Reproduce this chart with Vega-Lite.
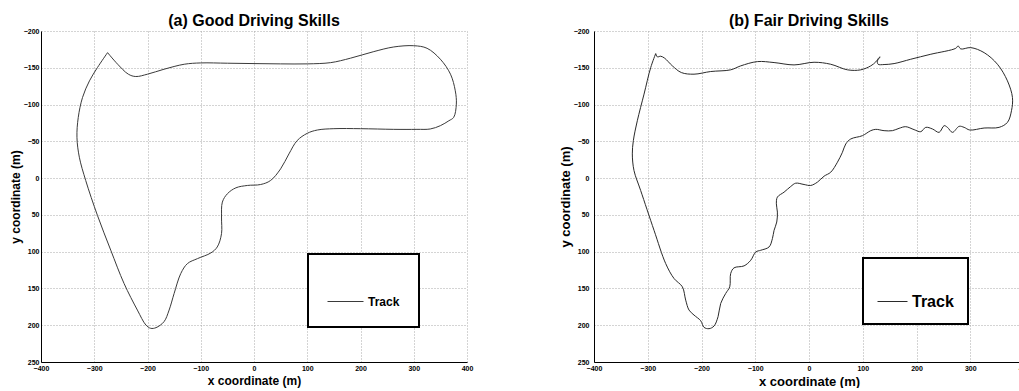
{
  "$schema": "https://vega.github.io/schema/vega-lite/v6.json",
  "padding": {"left": 9, "top": 13, "right": 0, "bottom": 0},
  "background": "white",
  "spacing": 86,
  "config": {
    "font": "Liberation Sans",
    "view": {"stroke": null},
    "axis": {
      "domainColor": "black",
      "domainWidth": 1,
      "ticks": false,
      "labelFont": "Liberation Sans",
      "labelFontSize": 7,
      "labelFontWeight": "bold",
      "labelColor": "black",
      "labelPadding": 2,
      "labelFlush": false,
      "labelOverlap": false,
      "grid": true,
      "gridColor": "#a8a8a8",
      "gridDash": [1, 2],
      "gridWidth": 1,
      "titleFont": "Liberation Sans",
      "titleFontWeight": "bold",
      "titleColor": "black"
    },
    "legend": {
      "orient": "none",
      "fillColor": "white",
      "strokeColor": "black",
      "strokeWidth": 2,
      "symbolType": "stroke",
      "symbolStrokeColor": "black",
      "symbolStrokeWidth": 1,
      "labelFont": "Liberation Sans",
      "labelFontWeight": "bold",
      "labelColor": "black",
      "labelOffset": 4,
      "titleFontSize": 1,
      "titleColor": "white"
    },
    "title": {"font": "Liberation Sans", "fontSize": 16, "fontWeight": "bold", "color": "black", "anchor": "middle", "offset": -2}
  },
  "datasets": {
    "good": [
      {"series": "Track", "i": 0, "x": -275, "y": -170.6},
      {"series": "Track", "i": 1, "x": -256, "y": -154.8},
      {"series": "Track", "i": 2, "x": -236, "y": -141.3},
      {"series": "Track", "i": 3, "x": -222, "y": -138.1},
      {"series": "Track", "i": 4, "x": -200, "y": -141.3},
      {"series": "Track", "i": 5, "x": -169, "y": -148},
      {"series": "Track", "i": 6, "x": -131, "y": -154.8},
      {"series": "Track", "i": 7, "x": -100, "y": -156.6},
      {"series": "Track", "i": 8, "x": -50, "y": -156.2},
      {"series": "Track", "i": 9, "x": 0, "y": -155.7},
      {"series": "Track", "i": 10, "x": 50, "y": -155.3},
      {"series": "Track", "i": 11, "x": 100, "y": -155.3},
      {"series": "Track", "i": 12, "x": 144, "y": -157},
      {"series": "Track", "i": 13, "x": 181, "y": -163},
      {"series": "Track", "i": 14, "x": 225, "y": -172},
      {"series": "Track", "i": 15, "x": 262.5, "y": -178.3},
      {"series": "Track", "i": 16, "x": 300, "y": -180},
      {"series": "Track", "i": 17, "x": 325, "y": -176.5},
      {"series": "Track", "i": 18, "x": 350, "y": -161.6},
      {"series": "Track", "i": 19, "x": 369, "y": -141.3},
      {"series": "Track", "i": 20, "x": 378, "y": -118.7},
      {"series": "Track", "i": 21, "x": 380, "y": -100.6},
      {"series": "Track", "i": 22, "x": 375, "y": -82.6},
      {"series": "Track", "i": 23, "x": 366, "y": -78},
      {"series": "Track", "i": 24, "x": 350, "y": -71.3},
      {"series": "Track", "i": 25, "x": 331, "y": -66.8},
      {"series": "Track", "i": 26, "x": 306, "y": -66.3},
      {"series": "Track", "i": 27, "x": 262.5, "y": -66.3},
      {"series": "Track", "i": 28, "x": 200, "y": -67.2},
      {"series": "Track", "i": 29, "x": 150, "y": -67.2},
      {"series": "Track", "i": 30, "x": 119, "y": -65.4},
      {"series": "Track", "i": 31, "x": 100, "y": -60.9},
      {"series": "Track", "i": 32, "x": 81, "y": -51},
      {"series": "Track", "i": 33, "x": 65.6, "y": -32.9},
      {"series": "Track", "i": 34, "x": 50, "y": -12.6},
      {"series": "Track", "i": 35, "x": 31, "y": 3.3},
      {"series": "Track", "i": 36, "x": 12.5, "y": 8.7},
      {"series": "Track", "i": 37, "x": -12.5, "y": 10},
      {"series": "Track", "i": 38, "x": -34, "y": 13.2},
      {"series": "Track", "i": 39, "x": -50, "y": 21.3},
      {"series": "Track", "i": 40, "x": -59.4, "y": 32.6},
      {"series": "Track", "i": 41, "x": -61, "y": 52.9},
      {"series": "Track", "i": 42, "x": -61, "y": 75.5},
      {"series": "Track", "i": 43, "x": -69, "y": 93.6},
      {"series": "Track", "i": 44, "x": -81, "y": 101.7},
      {"series": "Track", "i": 45, "x": -106, "y": 109.4},
      {"series": "Track", "i": 46, "x": -125, "y": 116.2},
      {"series": "Track", "i": 47, "x": -137.5, "y": 129.7},
      {"series": "Track", "i": 48, "x": -150, "y": 156.8},
      {"series": "Track", "i": 49, "x": -159.4, "y": 179.4},
      {"series": "Track", "i": 50, "x": -169, "y": 195.2},
      {"series": "Track", "i": 51, "x": -184, "y": 203.3},
      {"series": "Track", "i": 52, "x": -194, "y": 204.2},
      {"series": "Track", "i": 53, "x": -203, "y": 199.7},
      {"series": "Track", "i": 54, "x": -219, "y": 179.4},
      {"series": "Track", "i": 55, "x": -244, "y": 143.3},
      {"series": "Track", "i": 56, "x": -269, "y": 98},
      {"series": "Track", "i": 57, "x": -294, "y": 50.7},
      {"series": "Track", "i": 58, "x": -316, "y": 3.3},
      {"series": "Track", "i": 59, "x": -328, "y": -28.4},
      {"series": "Track", "i": 60, "x": -332.5, "y": -55.5},
      {"series": "Track", "i": 61, "x": -330, "y": -82.6},
      {"series": "Track", "i": 62, "x": -322, "y": -109.7},
      {"series": "Track", "i": 63, "x": -309, "y": -132.2},
      {"series": "Track", "i": 64, "x": -294, "y": -150.3},
      {"series": "Track", "i": 65, "x": -275, "y": -170.6}
    ],
    "fair": [
      {"series": "Track", "i": 0, "x": -285.2, "y": -169.3},
      {"series": "Track", "i": 1, "x": -282.1, "y": -164.8},
      {"series": "Track", "i": 2, "x": -275.9, "y": -165.7},
      {"series": "Track", "i": 3, "x": -268.5, "y": -163.0},
      {"series": "Track", "i": 4, "x": -254.2, "y": -152.6},
      {"series": "Track", "i": 5, "x": -237.5, "y": -143.5},
      {"series": "Track", "i": 6, "x": -213.9, "y": -141.3},
      {"series": "Track", "i": 7, "x": -182.9, "y": -144.9},
      {"series": "Track", "i": 8, "x": -145.7, "y": -147.2},
      {"series": "Track", "i": 9, "x": -127.0, "y": -152.6},
      {"series": "Track", "i": 10, "x": -96.0, "y": -158.4},
      {"series": "Track", "i": 11, "x": -65.0, "y": -157.1},
      {"series": "Track", "i": 12, "x": -27.8, "y": -153.9},
      {"series": "Track", "i": 13, "x": 9.4, "y": -157.5},
      {"series": "Track", "i": 14, "x": 40.4, "y": -154.8},
      {"series": "Track", "i": 15, "x": 71.5, "y": -147.2},
      {"series": "Track", "i": 16, "x": 96.3, "y": -147.2},
      {"series": "Track", "i": 17, "x": 114.9, "y": -152.6},
      {"series": "Track", "i": 18, "x": 124.2, "y": -158.0},
      {"series": "Track", "i": 19, "x": 130.4, "y": -163.9},
      {"series": "Track", "i": 20, "x": 132.3, "y": -164.8},
      {"series": "Track", "i": 21, "x": 127.3, "y": -159.3},
      {"series": "Track", "i": 22, "x": 128.5, "y": -154.8},
      {"series": "Track", "i": 23, "x": 139.7, "y": -154.4},
      {"series": "Track", "i": 24, "x": 158.3, "y": -155.7},
      {"series": "Track", "i": 25, "x": 189.3, "y": -161.6},
      {"series": "Track", "i": 26, "x": 226.6, "y": -168.4},
      {"series": "Track", "i": 27, "x": 273.1, "y": -176.5},
      {"series": "Track", "i": 28, "x": 277.4, "y": -179.7},
      {"series": "Track", "i": 29, "x": 282.4, "y": -175.6},
      {"series": "Track", "i": 30, "x": 301.0, "y": -177.4},
      {"series": "Track", "i": 31, "x": 325.8, "y": -170.6},
      {"series": "Track", "i": 32, "x": 350.6, "y": -154.8},
      {"series": "Track", "i": 33, "x": 369.2, "y": -132.2},
      {"series": "Track", "i": 34, "x": 378.5, "y": -109.7},
      {"series": "Track", "i": 35, "x": 376.7, "y": -91.6},
      {"series": "Track", "i": 36, "x": 369.2, "y": -75.8},
      {"series": "Track", "i": 37, "x": 353.7, "y": -69.0},
      {"series": "Track", "i": 38, "x": 325.8, "y": -68.1},
      {"series": "Track", "i": 39, "x": 299.1, "y": -65.4},
      {"series": "Track", "i": 40, "x": 288.6, "y": -69.0},
      {"series": "Track", "i": 41, "x": 279.3, "y": -70.4},
      {"series": "Track", "i": 42, "x": 266.9, "y": -62.2},
      {"series": "Track", "i": 43, "x": 257.6, "y": -69.0},
      {"series": "Track", "i": 44, "x": 251.4, "y": -71.3},
      {"series": "Track", "i": 45, "x": 242.1, "y": -62.2},
      {"series": "Track", "i": 46, "x": 229.7, "y": -66.8},
      {"series": "Track", "i": 47, "x": 217.2, "y": -69.0},
      {"series": "Track", "i": 48, "x": 207.9, "y": -63.1},
      {"series": "Track", "i": 49, "x": 195.5, "y": -65.9},
      {"series": "Track", "i": 50, "x": 180.0, "y": -69.9},
      {"series": "Track", "i": 51, "x": 167.6, "y": -67.7},
      {"series": "Track", "i": 52, "x": 155.2, "y": -64.5},
      {"series": "Track", "i": 53, "x": 139.7, "y": -64.5},
      {"series": "Track", "i": 54, "x": 124.2, "y": -66.3},
      {"series": "Track", "i": 55, "x": 114.9, "y": -64.5},
      {"series": "Track", "i": 56, "x": 99.4, "y": -57.7},
      {"series": "Track", "i": 57, "x": 77.7, "y": -53.2},
      {"series": "Track", "i": 58, "x": 68.4, "y": -46.4},
      {"series": "Track", "i": 59, "x": 62.2, "y": -35.1},
      {"series": "Track", "i": 60, "x": 52.9, "y": -21.6},
      {"series": "Track", "i": 61, "x": 40.4, "y": -8.0},
      {"series": "Track", "i": 62, "x": 28.0, "y": -2.6},
      {"series": "Track", "i": 63, "x": 15.6, "y": 5.5},
      {"series": "Track", "i": 64, "x": 3.2, "y": 10.0},
      {"series": "Track", "i": 65, "x": -9.2, "y": 8.7},
      {"series": "Track", "i": 66, "x": -24.7, "y": 6.9},
      {"series": "Track", "i": 67, "x": -34.0, "y": 11.4},
      {"series": "Track", "i": 68, "x": -46.4, "y": 19.1},
      {"series": "Track", "i": 69, "x": -58.8, "y": 25.8},
      {"series": "Track", "i": 70, "x": -60.7, "y": 34.9},
      {"series": "Track", "i": 71, "x": -58.8, "y": 46.2},
      {"series": "Track", "i": 72, "x": -60.0, "y": 59.7},
      {"series": "Track", "i": 73, "x": -65.0, "y": 71.0},
      {"series": "Track", "i": 74, "x": -68.1, "y": 82.3},
      {"series": "Track", "i": 75, "x": -74.3, "y": 93.6},
      {"series": "Track", "i": 76, "x": -89.8, "y": 98.1},
      {"series": "Track", "i": 77, "x": -99.1, "y": 100.4},
      {"series": "Track", "i": 78, "x": -108.4, "y": 111.7},
      {"series": "Track", "i": 79, "x": -120.8, "y": 119.3},
      {"series": "Track", "i": 80, "x": -139.5, "y": 122.0},
      {"series": "Track", "i": 81, "x": -145.7, "y": 129.7},
      {"series": "Track", "i": 82, "x": -147.5, "y": 147.8},
      {"series": "Track", "i": 83, "x": -155.0, "y": 156.8},
      {"series": "Track", "i": 84, "x": -164.3, "y": 170.4},
      {"series": "Track", "i": 85, "x": -169.2, "y": 188.4},
      {"series": "Track", "i": 86, "x": -176.7, "y": 201.1},
      {"series": "Track", "i": 87, "x": -186.0, "y": 204.7},
      {"series": "Track", "i": 88, "x": -195.3, "y": 202.9},
      {"series": "Track", "i": 89, "x": -201.5, "y": 193.9},
      {"series": "Track", "i": 90, "x": -213.9, "y": 186.2},
      {"series": "Track", "i": 91, "x": -223.2, "y": 179.4},
      {"series": "Track", "i": 92, "x": -229.4, "y": 165.9},
      {"series": "Track", "i": 93, "x": -235.6, "y": 147.8},
      {"series": "Track", "i": 94, "x": -251.1, "y": 136.5},
      {"series": "Track", "i": 95, "x": -266.6, "y": 116.2},
      {"series": "Track", "i": 96, "x": -288.3, "y": 71.0},
      {"series": "Track", "i": 97, "x": -313.2, "y": 16.8},
      {"series": "Track", "i": 98, "x": -325.6, "y": -10.3},
      {"series": "Track", "i": 99, "x": -328.7, "y": -32.9},
      {"series": "Track", "i": 100, "x": -326.8, "y": -50.9},
      {"series": "Track", "i": 101, "x": -319.4, "y": -78.0},
      {"series": "Track", "i": 102, "x": -306.9, "y": -114.2},
      {"series": "Track", "i": 103, "x": -294.5, "y": -150.3},
      {"series": "Track", "i": 104, "x": -285.2, "y": -169.3}
    ]
  },
  "resolve": {"scale": {"color": "independent", "x": "independent", "y": "independent"}, "legend": {"color": "independent"}},
  "hconcat": [
    {
      "width": 426,
      "height": 331,
      "title": {"text": "(a) Good Driving Skills"},
      "data": {"name": "good"},
      "mark": {"type": "line", "interpolate": "catmull-rom", "strokeWidth": 1, "clip": true},
      "encoding": {
        "x": {"field": "x", "type": "quantitative", "scale": {"domain": [-400, 400], "nice": false},
          "axis": {"title": "x coordinate (m)", "values": [-400, -300, -200, -100, 0, 100, 200, 300, 400], "titleFontSize": 12, "titlePadding": 4}},
        "y": {"field": "y", "type": "quantitative", "scale": {"domain": [-200, 250], "reverse": true, "nice": false},
          "axis": {"title": "y coordinate (m)", "values": [-200, -150, -100, -50, 0, 50, 100, 150, 200, 250], "titleFontSize": 12, "titlePadding": 1}},
        "order": {"field": "i", "type": "quantitative"},
        "color": {"field": "series", "type": "nominal", "scale": {"range": ["#3a3a3a"]},
          "legend": {"title": "\u00a0", "titlePadding": 9, "legendX": 267, "legendY": 223, "padding": 19, "symbolSize": 1296, "labelFontSize": 12}}
      }
    },
    {
      "width": 430,
      "height": 331,
      "title": {"text": "(b) Fair Driving Skills"},
      "data": {"name": "fair"},
      "mark": {"type": "line", "interpolate": "catmull-rom", "strokeWidth": 1, "clip": true},
      "encoding": {
        "x": {"field": "x", "type": "quantitative", "scale": {"domain": [-400, 400], "nice": false},
          "axis": {"title": "x coordinate (m)", "values": [-400, -300, -200, -100, 0, 100, 200, 300, 400], "titleFontSize": 13, "titlePadding": 4}},
        "y": {"field": "y", "type": "quantitative", "scale": {"domain": [-200, 250], "reverse": true, "nice": false},
          "axis": {"title": "y coordinate (m)", "values": [-200, -150, -100, -50, 0, 50, 100, 150, 200, 250], "titleFontSize": 13, "titlePadding": 1, "labelPadding": 5}},
        "order": {"field": "i", "type": "quantitative"},
        "color": {"field": "series", "type": "nominal", "scale": {"range": ["#2a2a2a"]},
          "legend": {"title": "\u00a0", "titlePadding": 13, "legendX": 269, "legendY": 227, "padding": 14, "symbolSize": 900, "labelFontSize": 16}}
      }
    }
  ]
}
